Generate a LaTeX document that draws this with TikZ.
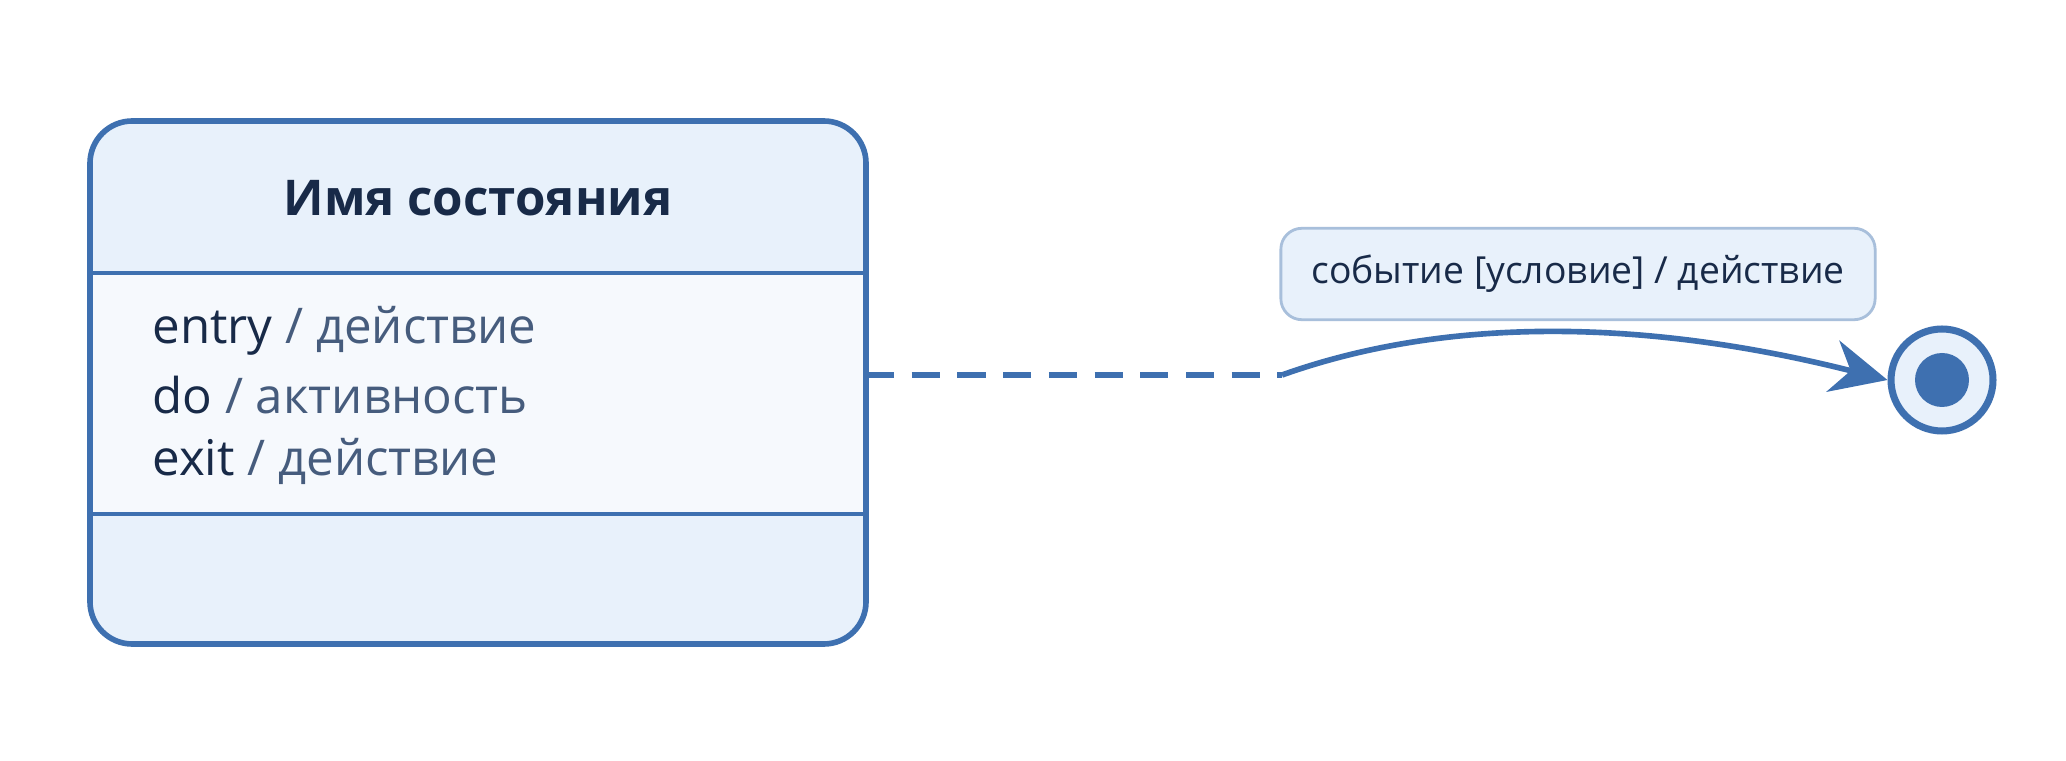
\documentclass[tikz,border=0pt]{standalone}
\usepackage{fontspec}
\setmainfont{Open Sans}
\usetikzlibrary{positioning, arrows.meta}
\definecolor{edge}{RGB}{62, 112, 176}
\definecolor{pale}{RGB}{232, 241, 251}
\definecolor{ink}{RGB}{24, 42, 72}
\definecolor{soft}{RGB}{70, 92, 125}

\begin{document}
\begin{tikzpicture}[x=0.01cm, y=-0.01cm,
    state/.style={draw=edge, line width=1.6pt, rounded corners=12pt},
    act/.style={anchor=west, font=\fontsize{14}{14}\selectfont, text=ink}]
  \useasboundingbox[fill=white] (0, 0) rectangle (2066, 761);

  % state with compartments
  \begin{scope}
    \clip[rounded corners=12pt] (90, 121) rectangle (866, 644);
    \fill[pale] (90, 121) rectangle (866, 644);
    \fill[white!60!pale] (90, 273) rectangle (866, 514);
  \end{scope}
  \draw[state] (90, 121) rectangle (866, 644);
  \draw[edge, line width=1pt] (90, 273) -- (866, 273);
  \draw[edge, line width=1pt] (90, 514) -- (866, 514);
  \node[text=ink, font=\bfseries\fontsize{14}{14}\selectfont] (title) at (478, 198) {Имя состояния};
  \node[act] (entry) at (140, 331) {entry \textcolor{soft}{/ действие}};
  \node[act] (do) at (140, 395) {do \textcolor{soft}{/ активность}};
  \node[act] (exit) at (140, 461) {exit \textcolor{soft}{/ действие}};

  % transition
  \coordinate (out) at (866, 375);
  \coordinate (mid) at (1282, 375);
  \node[circle, draw=edge, line width=2pt, fill=pale, minimum size=29pt, inner sep=0pt] (final) at (1942, 380) {};
  \fill[edge] (final.center) circle (27);
  \draw[edge, line width=1.6pt, dash pattern=on 8pt off 5pt] (out) -- (mid);
  \draw[edge, line width=1.6pt, -{Stealth[length=16pt, width=15pt]}]
    (mid) .. controls (1450, 315) and (1650, 320) .. (final.west);
  \node[draw=edge!45, fill=pale, line width=0.8pt, rounded corners=6pt,
        minimum width=169pt, minimum height=26pt,
        text=ink, font=\fontsize{10.6}{10.6}\selectfont] (label) at (1578, 274)
    {событие [условие] / действие};
\end{tikzpicture}
\end{document}
